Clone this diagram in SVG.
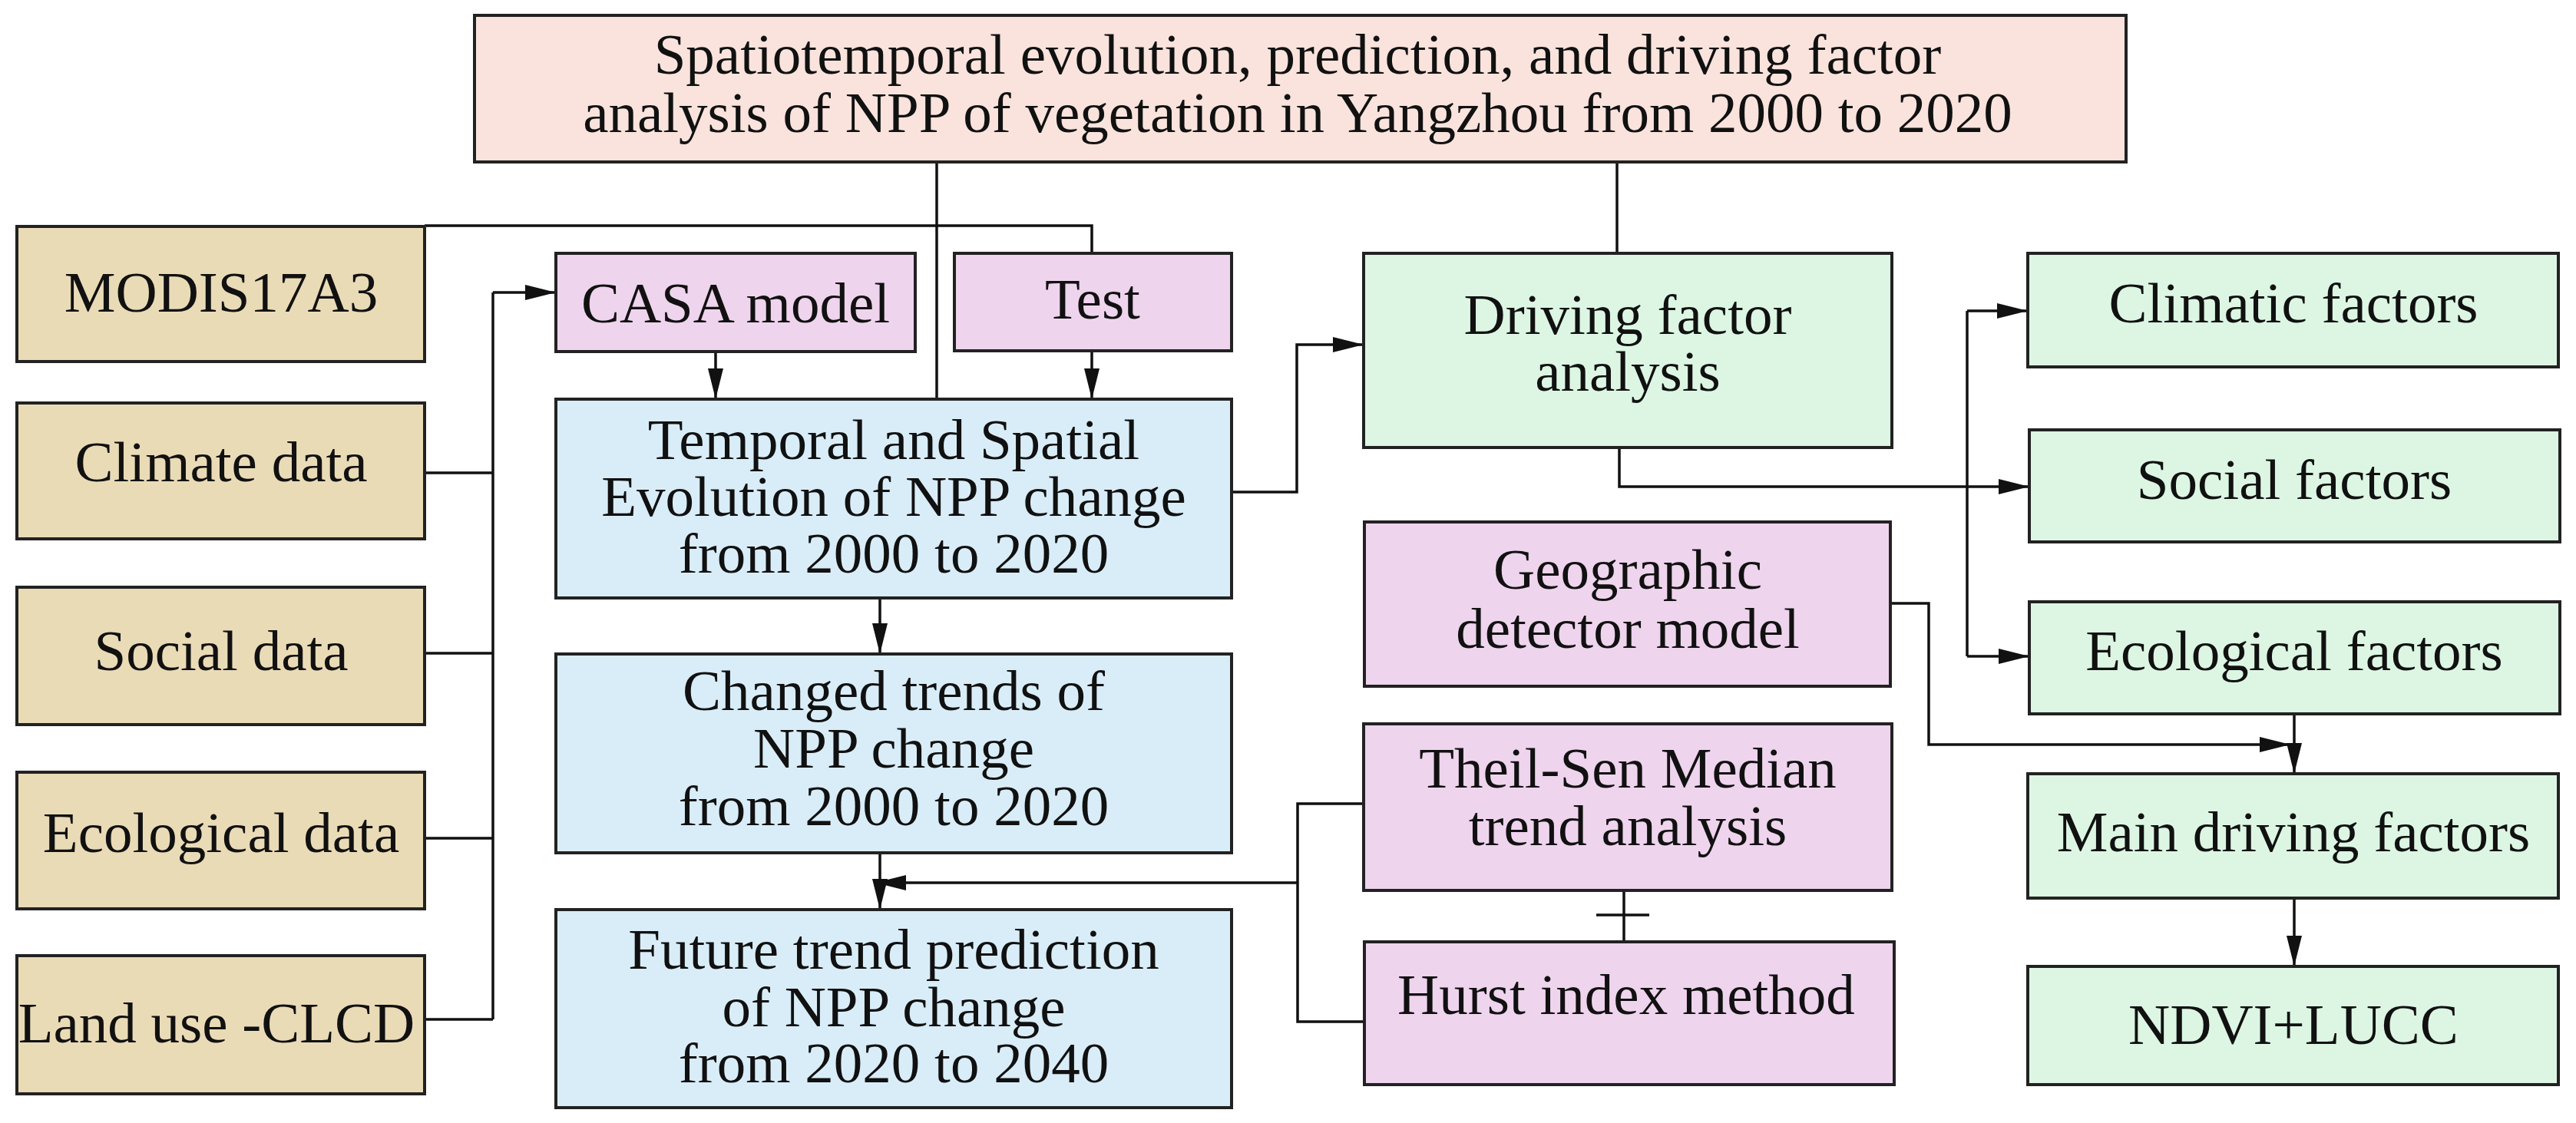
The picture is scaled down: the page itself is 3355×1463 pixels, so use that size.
<svg xmlns="http://www.w3.org/2000/svg" width="3355" height="1463" viewBox="0 0 3355 1463">
<style>
.box{stroke:#222;stroke-width:4}
.top{fill:#F9E3DC}
.tan{fill:#EADBB7}
.pink{fill:#EFD4EE}
.blue{fill:#D9EDF8}
.green{fill:#DCF6E3}
text{font-family:"Liberation Serif","Times New Roman",serif;font-size:75px;fill:#111;text-anchor:middle}
.c line,.c polyline{stroke:#111;stroke-width:3.5;fill:none}
.a{marker-end:url(#ah)}
</style>
<defs>
<marker id="ah" markerUnits="userSpaceOnUse" markerWidth="40" markerHeight="20" refX="40" refY="10" orient="auto">
<path d="M0,0 L40,10 L0,20 Z" fill="#111"/>
</marker>
</defs>
<rect width="3355" height="1463" fill="#fff"/>
<g id="connectors" class="c">
<line x1="1220" y1="211" x2="1220" y2="520"/>
<line x1="2106" y1="211" x2="2106" y2="330"/>
<polyline points="553,294 1422,294 1422,330"/>
<line class="a" x1="1422" y1="457" x2="1422" y2="520"/>
<line class="a" x1="932" y1="458" x2="932" y2="520"/>
<line x1="642" y1="381" x2="642" y2="1328"/>
<line class="a" x1="642" y1="381" x2="724" y2="381"/>
<line x1="553" y1="616" x2="642" y2="616"/>
<line x1="553" y1="851" x2="642" y2="851"/>
<line x1="553" y1="1092" x2="642" y2="1092"/>
<line x1="553" y1="1328" x2="642" y2="1328"/>
<polyline class="a" points="1604,641 1689,641 1689,449 1776,449"/>
<polyline class="a" points="2109,583 2109,634 2643,634"/>
<line x1="2562" y1="405" x2="2562" y2="855"/>
<line class="a" x1="2562" y1="405" x2="2641" y2="405"/>
<line class="a" x1="2562" y1="855" x2="2643" y2="855"/>
<polyline class="a" points="2462,786 2512,786 2512,970 2983,970"/>
<line class="a" x1="2988" y1="930" x2="2988" y2="1008"/>
<line class="a" x1="2988" y1="1170" x2="2988" y2="1259"/>
<line class="a" x1="1146" y1="779" x2="1146" y2="852"/>
<line class="a" x1="1146" y1="1111" x2="1146" y2="1185"/>
<polyline points="1776,1047 1690,1047 1690,1331 1777,1331"/>
<line class="a" x1="1690" y1="1150" x2="1140" y2="1150"/>
<line x1="2115" y1="1160" x2="2115" y2="1227"/>
<line x1="2079" y1="1192" x2="2148" y2="1192"/>
</g>
<g id="n-top"><rect class="box top" x="618" y="20" width="2151" height="191"/>
<text x="1690" y="96">Spatiotemporal evolution, prediction, and driving factor</text>
<text x="1690" y="172">analysis of NPP of vegetation in Yangzhou from 2000 to 2020</text></g>
<g id="n-modis"><rect class="box tan" x="22" y="295" width="531" height="176"/><text x="288" y="406">MODIS17A3</text></g>
<g id="n-climate"><rect class="box tan" x="22" y="525" width="531" height="177"/><text x="288" y="627">Climate data</text></g>
<g id="n-social"><rect class="box tan" x="22" y="765" width="531" height="179"/><text x="288" y="873">Social data</text></g>
<g id="n-ecodata"><rect class="box tan" x="22" y="1006" width="531" height="178"/><text x="288" y="1110">Ecological data</text></g>
<g id="n-landuse"><rect class="box tan" x="22" y="1245" width="531" height="180"/><text x="282" y="1358">Land use -CLCD</text></g>
<g id="n-casa"><rect class="box pink" x="724" y="330" width="468" height="128"/><text x="958" y="420">CASA model</text></g>
<g id="n-test"><rect class="box pink" x="1243" y="330" width="361" height="127"/><text x="1423" y="415">Test</text></g>
<g id="n-temporal"><rect class="box blue" x="724" y="520" width="880" height="259"/>
<text x="1164" y="598">Temporal and Spatial</text><text x="1164" y="672">Evolution of NPP change</text><text x="1164" y="746">from 2000 to 2020</text></g>
<g id="n-changed"><rect class="box blue" x="724" y="852" width="880" height="259"/>
<text x="1164" y="925">Changed trends of</text><text x="1164" y="1000">NPP change</text><text x="1164" y="1075">from 2000 to 2020</text></g>
<g id="n-future"><rect class="box blue" x="724" y="1185" width="880" height="258"/>
<text x="1164" y="1262">Future trend prediction</text><text x="1164" y="1337">of NPP change</text><text x="1164" y="1410">from 2020 to 2040</text></g>
<g id="n-driving"><rect class="box green" x="1776" y="330" width="688" height="253"/>
<text x="2120" y="435">Driving factor</text><text x="2120" y="509">analysis</text></g>
<g id="n-geo"><rect class="box pink" x="1777" y="680" width="685" height="214"/>
<text x="2120" y="767">Geographic</text><text x="2120" y="844">detector model</text></g>
<g id="n-theil"><rect class="box pink" x="1776" y="943" width="688" height="217"/>
<text x="2120" y="1026">Theil-Sen Median</text><text x="2120" y="1101">trend analysis</text></g>
<g id="n-hurst"><rect class="box pink" x="1777" y="1227" width="690" height="186"/><text x="2118" y="1321">Hurst index method</text></g>
<g id="n-climatic"><rect class="box green" x="2641" y="330" width="691" height="148"/><text x="2987" y="420">Climatic factors</text></g>
<g id="n-socialf"><rect class="box green" x="2643" y="560" width="691" height="146"/><text x="2988" y="650">Social factors</text></g>
<g id="n-ecof"><rect class="box green" x="2643" y="784" width="691" height="146"/><text x="2988" y="873">Ecological factors</text></g>
<g id="n-main"><rect class="box green" x="2641" y="1008" width="691" height="162"/><text x="2987" y="1109">Main driving factors</text></g>
<g id="n-ndvi"><rect class="box green" x="2641" y="1259" width="691" height="154"/><text x="2987" y="1360">NDVI+LUCC</text></g>
</svg>
